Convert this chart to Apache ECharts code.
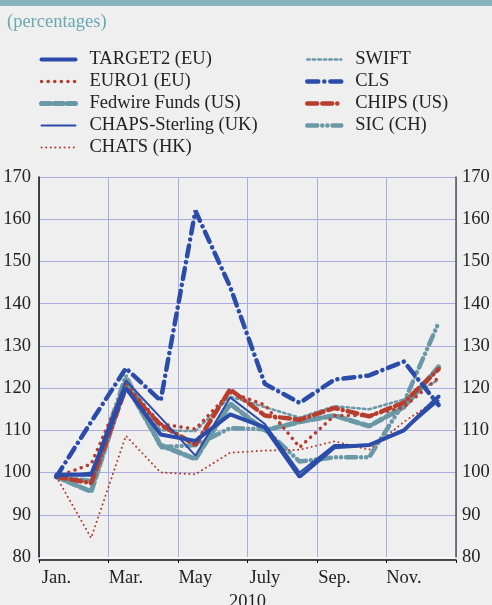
<!DOCTYPE html>
<html>
<head>
<meta charset="utf-8">
<script src="https://cdn.jsdelivr.net/npm/echarts@6/dist/echarts.min.js"></script>
<style>
  html, body { margin: 0; padding: 0; background: #efefef; }
  #main { width: 492px; height: 605px; }
</style>
</head>
<body>
<div id="main"></div>
<script>
var months = ['Jan.', 'Feb.', 'Mar.', 'Apr.', 'May', 'June', 'July', 'Aug.', 'Sep.', 'Oct.', 'Nov.', 'Dec.'];
var yTicks = [80, 90, 100, 110, 120, 130, 140, 150, 160, 170];

var target2 = [99.5, 99.5, 120, 109, 107.5, 113.8, 110.7, 99, 106, 106.5, 110, 118];
var euro1   = [99, 102, 121, 111.5, 110.3, 119, 116, 106, 113.5, 113.5, 115.5, 122.5];
var fedwire = [99, 95.5, 121, 106.5, 103.2, 116.3, 110, 112, 113.5, 111, 115.5, 125];
var chaps   = [99, 100, 121.8, 113, 104, 117.8, 111.5, 100, 106.5, 106.5, 110, 117];
var chats   = [99, 84.5, 108.7, 100, 99.6, 104.7, 105.2, 105.4, 107.4, 105.4, 112, 117.5];
var swift   = [99, 98, 122.5, 110, 109.8, 118, 115.5, 113, 115.7, 115, 117.3, 122];
var cls     = [99, 112, 124.7, 117, 162, 144, 121, 116.5, 122, 123, 126.3, 116];
var chips   = [99, 97.5, 120, 111.3, 106.6, 119.7, 113.5, 112.5, 115.3, 113.3, 116.6, 124.5];
var sic     = [99, 98, 123, 106, 106.5, 110.5, 110.3, 102.6, 103.6, 103.6, 116.6, 135.5];

var blue = '#2b4ca8', red = '#b73d2f', teal = '#6a98a6';
var font = '"Liberation Serif", "Times New Roman", serif';
var fs = 18.5;

function line(name, data, color, width, type, z) {
  return {
    name: name,
    type: 'line',
    data: data,
    symbol: 'none',
    z: z || 2,
    lineStyle: { color: color, width: width, type: type, cap: 'round' },
    itemStyle: { color: color }
  };
}

var myChart = echarts.init(document.getElementById('main'));
var gridColors = ['#ffffff'];
for (var i = 1; i < yTicks.length; i++) gridColors.push('#a9addf');

var legendBase = {
  orient: 'vertical', top: 45, itemWidth: 34, itemHeight: 10, itemGap: 3,
  lineStyle: { width: 'inherit' },
  itemStyle: { opacity: 0 }
};

var option = {
  backgroundColor: '#efefef',
  animation: false,
  textStyle: { fontFamily: font },
  graphic: [
    { type: 'rect', left: 0, top: 0, shape: { width: 492, height: 6 }, style: { fill: '#87b4be' } },
    { type: 'text', left: 7, top: 13, style: { text: '(percentages)', fill: '#6aa8b2', font: fs + 'px ' + font } }
  ],
  legend: [
    Object.assign({}, legendBase, {
      left: 34,
      textStyle: { fontSize: fs, color: '#222', fontFamily: font, padding: [0, 0, 0, 9] },
      data: ['TARGET2 (EU)', 'EURO1 (EU)', 'Fedwire Funds (US)', 'CHAPS-Sterling (UK)', 'CHATS (HK)']
    }),
    Object.assign({}, legendBase, {
      left: 300,
      textStyle: { fontSize: fs, color: '#222', fontFamily: font, padding: [0, 0, 0, 9] },
      data: ['SWIFT', 'CLS', 'CHIPS (US)', 'SIC (CH)']
    })
  ],
  grid: { left: 39, right: 36, top: 177, bottom: 48, outerBoundsMode: 'none', containLabel: false },
  xAxis: {
    type: 'category',
    data: months,
    boundaryGap: true,
    offset: 3,
    axisLine: { lineStyle: { color: '#111', width: 1.5 } },
    axisTick: { show: true, length: 3, lineStyle: { color: '#111' } },
    axisLabel: { interval: 1, margin: 9, fontSize: fs, color: '#222', fontFamily: font },
    splitLine: { show: true, lineStyle: { color: '#a9addf', width: 1 } },
    name: '2010',
    nameLocation: 'middle',
    nameGap: 33,
    nameTextStyle: { fontSize: fs, color: '#222', fontFamily: font }
  },
  yAxis: [{
    type: 'value', min: 80, max: 170, interval: 10, position: 'left',
    axisLine: { show: true, lineStyle: { color: '#111', width: 1.5 } },
    axisTick: { show: false },
    axisLabel: { margin: 8, fontSize: fs, color: '#222', fontFamily: font },
    splitLine: { show: true, lineStyle: { color: gridColors, width: 1 } }
  }, {
    type: 'value', min: 80, max: 170, interval: 10, position: 'right',
    axisLine: { show: true, lineStyle: { color: '#555', width: 1.5 } },
    axisTick: { show: false },
    axisLabel: { margin: 6, fontSize: fs, color: '#222', fontFamily: font },
    splitLine: { show: false }
  }],
  series: [
    line('TARGET2 (EU)', target2, blue, 4, 'solid', 5),
    line('EURO1 (EU)', euro1, red, 3.5, [0.1, 6.5], 3),
    line('Fedwire Funds (US)', fedwire, teal, 5, [9, 4], 2),
    line('CHAPS-Sterling (UK)', chaps, blue, 2, 'solid', 4),
    line('CHATS (HK)', chats, red, 2, [0.1, 4.5], 3),
    line('SWIFT', swift, teal, 2.5, [2.5, 3], 2),
    line('CLS', cls, blue, 4.5, [11, 6, 0.1, 6], 4),
    line('CHIPS (US)', chips, red, 4.5, [10, 5, 10, 5, 0.1, 5], 3),
    line('SIC (CH)', sic, teal, 4.5, [10, 5, 0.1, 5, 0.1, 5], 2)
  ]
};
myChart.setOption(option);
</script>
</body>
</html>
